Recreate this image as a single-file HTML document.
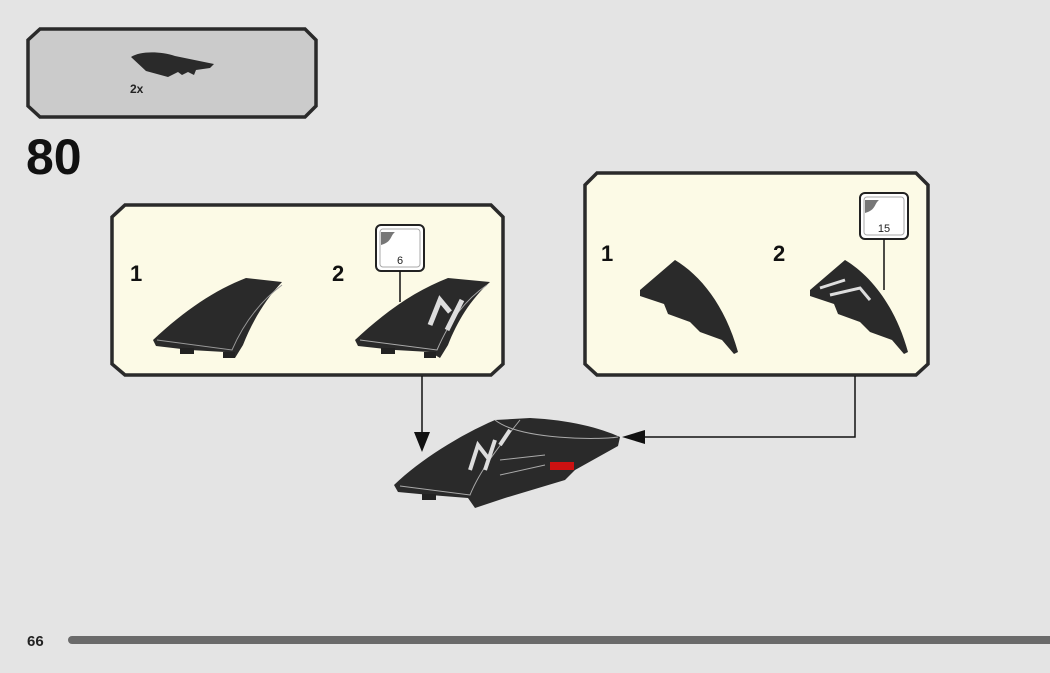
<!DOCTYPE html>
<html><head><meta charset="utf-8"><style>
html,body{margin:0;padding:0;background:#e4e4e4;width:1050px;height:673px;overflow:hidden;font-family:"Liberation Sans",sans-serif}
</style></head><body>
<svg width="1050" height="673" viewBox="0 0 1050 673" xmlns="http://www.w3.org/2000/svg">
<rect width="1050" height="673" fill="#e4e4e4"/>
<!-- parts callout -->
<polygon points="40,29 305,29 316,40 316,106 305,117 40,117 28,106 28,40" fill="#cbcbcb" stroke="#2a2a2a" stroke-width="3.5"/>
<path d="M131,57 C140,51 160,51 175,56 L214,64 L210,68 L196,70 L194,75 L188,72 L182,75 L178,72 L168,77 L146,71 Z" fill="#2a2a2a"/>
<text x="130" y="93" font-size="12" font-weight="bold" fill="#222">2x</text>
<text x="26" y="174" font-size="50" font-weight="bold" fill="#111">80</text>
<!-- panel 1 -->
<polygon points="125,205 491,205 503,217 503,364 491,375 125,375 112,364 112,217" fill="#fcfae6" stroke="#2a2a2a" stroke-width="3.5"/>
<text x="130" y="281" font-size="22" font-weight="bold" fill="#111">1</text>
<text x="332" y="281" font-size="22" font-weight="bold" fill="#111">2</text>
<path d="M153,340 C185,310 215,290 246,278 L282,282 C265,300 252,322 243,345 L235,358 L225,352 L190,350 L156,346 Z" fill="#2a2a2a"/>
<path d="M157,340 L232,350 C245,320 262,300 282,285" fill="none" stroke="#999" stroke-width="1"/>
<rect x="180" y="348" width="14" height="6" fill="#222"/><rect x="223" y="352" width="12" height="6" fill="#222"/>
<path d="M355,340 C387,310 417,290 448,278 L490,282 C470,300 457,322 448,345 L440,358 L430,352 L395,350 L358,346 Z" fill="#2a2a2a"/>
<path d="M360,340 L437,350 C450,320 465,300 487,285" fill="none" stroke="#aaa" stroke-width="1"/>
<path d="M430,325 L440,300 L450,312 M447,330 L462,300" stroke="#ddd" stroke-width="5" fill="none"/>
<rect x="381" y="348" width="14" height="6" fill="#222"/><rect x="424" y="352" width="12" height="6" fill="#222"/>
<rect x="376" y="225" width="48" height="46" rx="5" fill="#fff" stroke="#222" stroke-width="2"/>
<rect x="380" y="229" width="40" height="38" rx="3" fill="#fff" stroke="#aaa" stroke-width="1"/>
<path d="M381,245 L381,232 L395,232 C390,236 392,242 381,245Z" fill="#777"/>
<text x="400" y="264" font-size="11" text-anchor="middle" fill="#222">6</text>
<line x1="400" y1="271" x2="400" y2="302" stroke="#111" stroke-width="1.5"/>
<!-- panel 2 -->
<polygon points="597,173 916,173 928,185 928,364 916,375 597,375 585,364 585,185" fill="#fcfae6" stroke="#2a2a2a" stroke-width="3.5"/>
<text x="601" y="261" font-size="22" font-weight="bold" fill="#111">1</text>
<text x="773" y="261" font-size="22" font-weight="bold" fill="#111">2</text>
<path d="M640,290 L675,260 C700,275 725,305 738,352 L734,354 L722,340 L700,332 L690,322 L668,314 L664,304 L640,296 Z" fill="#2a2a2a"/>
<path d="M810,290 L845,260 C870,275 895,305 908,352 L904,354 L892,340 L870,332 L860,322 L838,314 L834,304 L810,296 Z" fill="#2a2a2a"/>
<path d="M820,288 L845,280 M830,295 L860,288 L870,300" stroke="#ddd" stroke-width="3" fill="none"/>
<rect x="860" y="193" width="48" height="46" rx="5" fill="#fff" stroke="#222" stroke-width="2"/>
<rect x="864" y="197" width="40" height="38" rx="3" fill="#fff" stroke="#aaa" stroke-width="1"/>
<path d="M865,213 L865,200 L879,200 C874,204 876,210 865,213Z" fill="#777"/>
<text x="884" y="232" font-size="11" text-anchor="middle" fill="#222">15</text>
<line x1="884" y1="239" x2="884" y2="290" stroke="#111" stroke-width="1.5"/>
<!-- connectors -->
<line x1="422" y1="376" x2="422" y2="436" stroke="#111" stroke-width="1.5"/>
<polygon points="414,432 430,432 422,452" fill="#111"/>
<polyline points="855,376 855,437 640,437" fill="none" stroke="#111" stroke-width="1.5"/>
<polygon points="622,437 645,430 645,444" fill="#111"/>
<!-- assembled -->
<path d="M394,485 C420,460 460,435 495,420 L530,418 C570,420 600,428 620,437 L618,446 L575,470 L565,480 L505,498 L475,508 L468,498 L430,495 L398,492 Z" fill="#2a2a2a"/>
<path d="M400,486 L470,495 C480,470 500,445 520,420" fill="none" stroke="#aaa" stroke-width="1"/>
<path d="M495,420 C520,440 600,440 618,437" fill="none" stroke="#aaa" stroke-width="1"/>
<path d="M470,470 L478,445 L488,458 M485,470 L495,440 M500,445 L510,430" stroke="#ddd" stroke-width="4" fill="none"/>
<rect x="550" y="462" width="24" height="8" fill="#cc1111"/>
<path d="M500,460 L545,455 M500,475 L545,465" stroke="#aaa" stroke-width="1"/>
<rect x="422" y="494" width="14" height="6" fill="#222"/>
<!-- footer -->
<text x="27" y="646" font-size="15" font-weight="bold" fill="#222">66</text>
<rect x="68" y="636" width="990" height="8" rx="4" fill="#6a6a6a"/>
</svg>
</body></html>
